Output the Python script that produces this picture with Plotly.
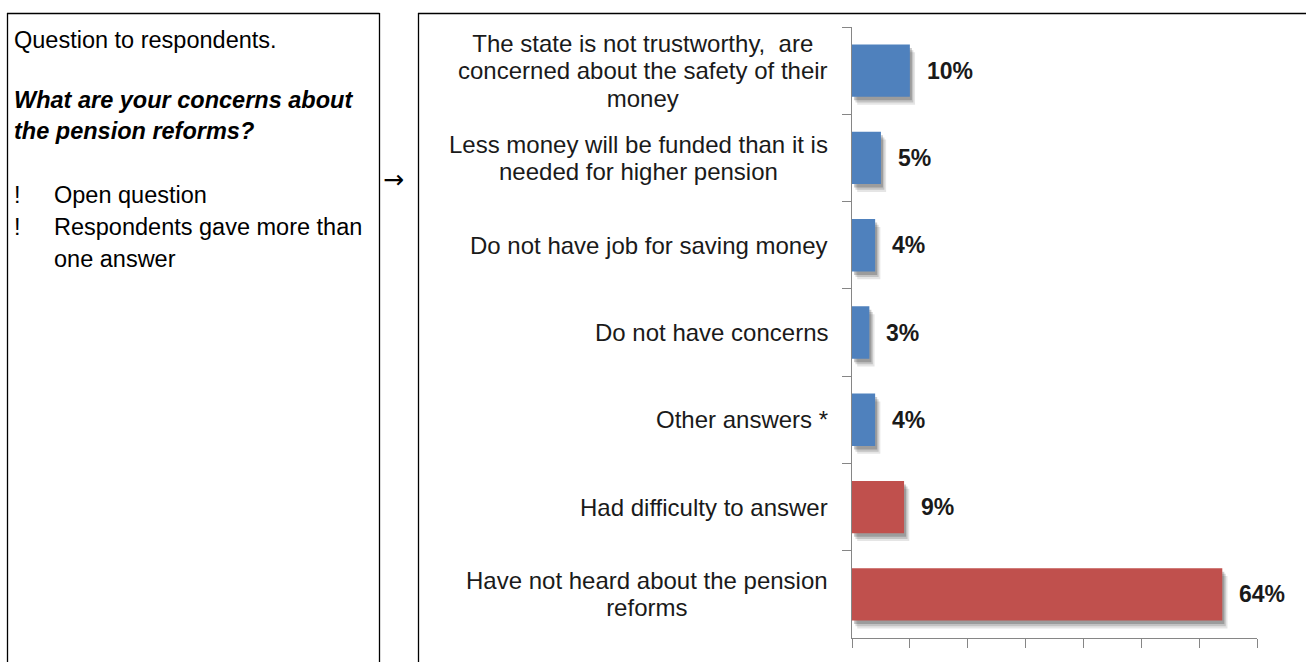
import plotly.graph_objects as go

# ---- data -------------------------------------------------------------
answers = [
    "The state is not trustworthy,  are<br>concerned about the safety of their<br>money",
    "Less money will be funded than it is<br>needed for higher pension",
    "Do not have job for saving money",
    "Do not have concerns",
    "Other answers *",
    "Had difficulty to answer",
    "Have not heard about the pension<br>reforms",
]
shares = [10, 5, 4, 3, 4, 9, 64]
groups = ["concern", "concern", "concern", "concern", "concern", "other", "other"]

x_ticks = [0, 10, 20, 30, 40, 50, 60, 70]

intro_line = "Question to respondents."
question_lines = ["What are your concerns about", "the pension reforms?"]
notes = ["Open question", "Respondents gave more than", "one answer"]
note_marks = ["!", "!", ""]

# ---- styling ------------------------------------------------------------
W, H = 1306, 662
FONT = "Liberation Sans, Arial, sans-serif"
TEXT = "#1a1a1a"
AXIS = "#868686"
group_color = {"concern": "#4F81BD", "other": "#C0504D"}


def px(x):
    return x / W


def py(y):
    return 1 - y / H


cat_ids = [f"c{i}" for i in range(len(answers))]
bar_colors = [group_color[g] for g in groups]

fig = go.Figure()

# soft drop shadow under each bar (faint stacked layers)
for base, shift, alpha in [(0.9, 0.09, 0.10), (0.6, 0.065, 0.15), (0.35, 0.04, 0.2)]:
    fig.add_trace(go.Bar(
        y=cat_ids, x=shares, base=base, orientation="h",
        width=0.6, offset=-0.3 + shift,
        marker=dict(color=f"rgba(0,0,0,{alpha})", line=dict(width=0)),
        hoverinfo="skip", showlegend=False,
    ))

fig.add_trace(go.Bar(
    y=cat_ids, x=shares, orientation="h",
    width=0.6, offset=-0.3,
    marker=dict(color=bar_colors, line=dict(width=0)),
    showlegend=False,
))

annotations = []

# category labels, centred lines, right-aligned block
for cid, label in zip(cat_ids, answers):
    lines = label.split("<br>")
    txt = "<br>".join(f"<span style='font-size:24px'>{ln}</span>" for ln in lines)
    annotations.append(dict(
        xref="paper", yref="y", x=px(830), y=cid,
        xanchor="right", yanchor="middle", align="center",
        text=txt, showarrow=False,
        font=dict(family=FONT, size=21, color=TEXT),
    ))

# value labels
for cid, v in zip(cat_ids, shares):
    annotations.append(dict(
        xref="x", yref="y", x=v, y=cid, xanchor="left", yanchor="middle",
        xshift=15, text=f"<b>{v}%</b>", showarrow=False,
        font=dict(family=FONT, size=23, color=TEXT),
    ))

# left panel text
left_font = dict(family=FONT, size=23.5, color="#000000")
annotations.append(dict(
    xref="paper", yref="paper", x=px(12), y=py(40), xanchor="left", yanchor="middle",
    text=intro_line, showarrow=False, font=left_font,
))
for yy, ln in zip([100, 131], question_lines):
    annotations.append(dict(
        xref="paper", yref="paper", x=px(12), y=py(yy), xanchor="left", yanchor="middle",
        text=f"<b><i>{ln}</i></b>", showarrow=False, font=left_font,
    ))
for yy, mark, ln in zip([195, 227, 259], note_marks, notes):
    if mark:
        annotations.append(dict(
            xref="paper", yref="paper", x=px(12), y=py(yy), xanchor="left",
            yanchor="middle", text=mark, showarrow=False, font=left_font,
        ))
    annotations.append(dict(
        xref="paper", yref="paper", x=px(52), y=py(yy), xanchor="left", yanchor="middle",
        text=ln, showarrow=False, font=left_font,
    ))

# arrow between the panels
annotations.append(dict(
    xref="paper", yref="paper", x=px(393), y=py(180), xanchor="center", yanchor="middle",
    text="→", showarrow=False, font=dict(family="DejaVu Sans, sans-serif", size=25, color="#000000"),
))

# panel frames (open at the bottom / right, as they continue past the page)
frame = dict(color="#000000", width=1.3)
shapes = [
    dict(type="line", xref="paper", yref="paper", x0=px(7), x1=px(379.5), y0=py(13.5), y1=py(13.5), line=frame),
    dict(type="line", xref="paper", yref="paper", x0=px(7.5), x1=px(7.5), y0=py(13), y1=py(700), line=frame),
    dict(type="line", xref="paper", yref="paper", x0=px(379.5), x1=px(379.5), y0=py(13), y1=py(700), line=frame),
    dict(type="line", xref="paper", yref="paper", x0=px(418), x1=px(1320), y0=py(13.5), y1=py(13.5), line=frame),
    dict(type="line", xref="paper", yref="paper", x0=px(418.5), x1=px(418.5), y0=py(13), y1=py(700), line=frame),
]

fig.update_layout(
    width=W, height=H,
    margin=dict(l=0, r=0, t=0, b=0),
    paper_bgcolor="white", plot_bgcolor="white",
    barmode="overlay",
    showlegend=False,
    annotations=annotations,
    shapes=shapes,
    xaxis=dict(
        domain=[px(852), px(1257)], range=[0, 70],
        tickvals=x_ticks, showticklabels=False,
        ticks="outside", ticklen=9, tickwidth=1.3, tickcolor=AXIS,
        showline=True, linecolor=AXIS, linewidth=1.3,
        showgrid=False, zeroline=False, fixedrange=True,
    ),
    yaxis=dict(
        domain=[py(638), py(27)],
        type="category", categoryorder="array", categoryarray=cat_ids,
        autorange="reversed", showticklabels=False,
        ticks="outside", tickson="boundaries", ticklen=9, tickwidth=1.3, tickcolor=AXIS,
        showline=True, linecolor=AXIS, linewidth=1.3,
        showgrid=False, zeroline=False, fixedrange=True,
    ),
)

fig.write_html("out.html", config={"displayModeBar": False})
